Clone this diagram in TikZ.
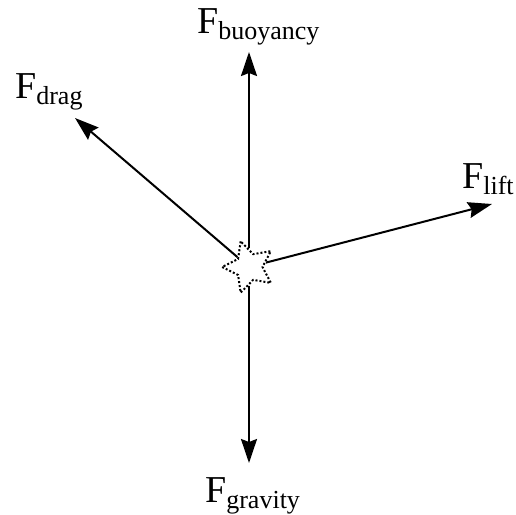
\documentclass[tikz,border=0pt]{standalone}
\usepackage{fontspec}
\setmainfont{Liberation Serif}
\usetikzlibrary{shapes.geometric, arrows.meta, positioning}

% force label: big F with lowered subscript
\newcommand{\forcelbl}[1]{\fontsize{38}{40}\selectfont F\raisebox{-6pt}{\fontsize{26}{28}\selectfont #1}}

\begin{document}
\begin{tikzpicture}[
    x=1pt, y=-1pt,
    body/.style={star, star points=5, star point ratio=2, shape border rotate=18, minimum size=54pt, inner sep=0pt, draw=black, dash pattern=on 2pt off 2pt, line width=2pt},
    force/.style={-{Stealth[length=24pt, width=16pt, inset=3pt]}, line width=2pt, draw=black},
    lbl/.style={anchor=base west, inner sep=0pt}
]
\useasboundingbox (0,0) rectangle (516,514);

% Body
\node[body] (ctr) at (249,267) {};

% Arrow tips
\coordinate (buoyTip) at (249,52);
\coordinate (dragTip) at (75,118);
\coordinate (liftTip) at (492,204);
\coordinate (gravTip) at (249,463);

% Forces
\draw[force] (ctr) -- (buoyTip);
\draw[force] (ctr) -- (dragTip);
\draw[force] (ctr) -- (liftTip);
\draw[force] (ctr) -- (gravTip);

% Labels
\node[lbl] (buoyLbl) at (197,33) {\forcelbl{buoyancy}};
\node[lbl] (dragLbl) at (15,98) {\forcelbl{drag}};
\node[lbl] (liftLbl) at (462,188) {\forcelbl{lift}};
\node[lbl] (gravLbl) at (205,502) {\forcelbl{gravity}};

\end{tikzpicture}
\end{document}
